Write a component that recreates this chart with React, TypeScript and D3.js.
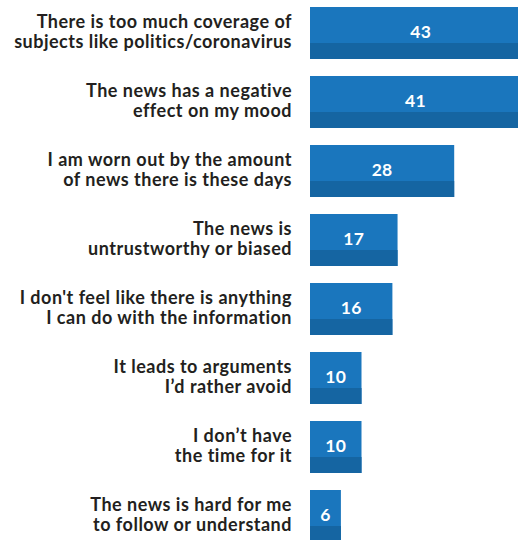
import React from "react";
import * as d3 from "d3";

const categories: string[][] = [
  ["There is too much coverage of", "subjects like politics/coronavirus"],
  ["The news has a negative", "effect on my mood"],
  ["I am worn out by the amount", "of news there is these days"],
  ["The news is", "untrustworthy or biased"],
  ["I don't feel like there is anything", "I can do with the information"],
  ["It leads to arguments", "I\u2019d rather avoid"],
  ["I don\u2019t have", "the time for it"],
  ["The news is hard for me", "to follow or understand"],
];
const values: number[] = [43, 41, 28, 17, 16, 10, 10, 6];

const W = 518;
const H = 540;
const FONT = "Lato, 'Noto Sans', sans-serif";

export default function App() {
  const x = d3.scaleLinear().domain([0, 10]).range([310, 361.5]);
  const step = 69;
  const gap = 17;
  const y = d3
    .scaleBand<number>()
    .domain(d3.range(values.length))
    .range([7, 7 + step * values.length - gap])
    .paddingInner(gap / step)
    .paddingOuter(0);
  const bh = y.bandwidth();
  const dark = 16;
  return (
    <svg
      width={W}
      height={H}
      style={{ position: "absolute", left: 0, top: 0, background: "#fff" }}
    >
      {values.map((v, i) => {
        const y0 = y(i)!;
        const x0 = x(0);
        const w = x(v) - x0;
        return (
          <g key={i}>
            <rect x={x0} y={y0} width={w} height={bh} fill="#1a76bd" />
            <rect x={x0} y={y0 + bh - dark} width={w} height={dark} fill="#1565a2" />
            <text
              x={x0 + w / 2}
              y={y0 + 31}
              textAnchor="middle"
              fill="#fff"
              fontFamily={FONT}
              fontWeight={700}
              fontSize={17.5}
              letterSpacing={0.3}
            >
              {v}
            </text>
            <text
              textAnchor="end"
              fill="#231f20"
              fontFamily={FONT}
              fontWeight={700}
              fontSize={18}
              letterSpacing={0.5}
            >
              {categories[i].map((line, j) => (
                <tspan key={j} x={292} y={y0 + 21 + j * 20}>
                  {line}
                </tspan>
              ))}
            </text>
          </g>
        );
      })}
    </svg>
  );
}
